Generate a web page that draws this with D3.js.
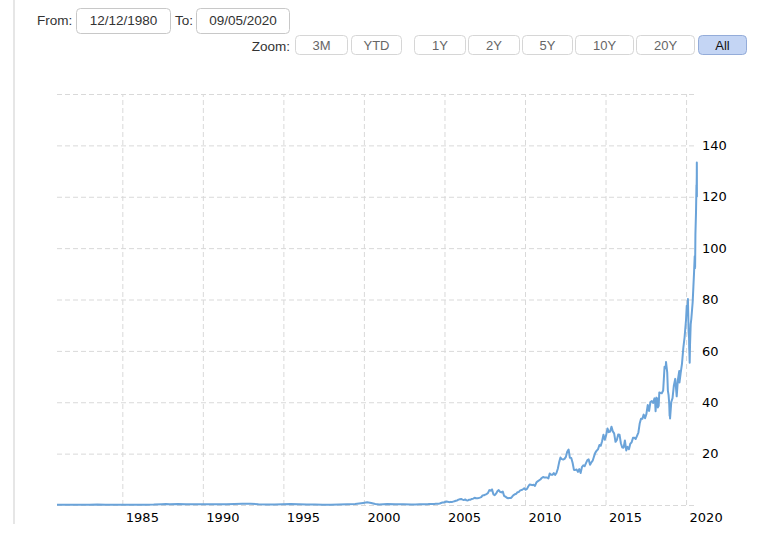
<!DOCTYPE html>
<html>
<head>
<meta charset="utf-8">
<script src="https://cdn.jsdelivr.net/npm/d3@7"></script>
<style>
html,body{margin:0;padding:0;background:#fff;}
svg{display:block;}
</style>
</head>
<body>
<svg id="chart" width="768" height="550"></svg>
<script>
// ---- data (adjusted closing price) ----
const dates = [
"1980-12-12","1981-01-15","1981-06-15","1981-12-15","1982-06-15","1982-12-15","1983-06-15","1983-12-15",
"1984-06-15","1984-12-15","1985-06-15","1985-12-15","1986-06-15","1986-12-15","1987-06-15","1987-09-15","1987-12-15",
"1988-06-15","1988-12-15","1989-06-15","1989-12-15","1990-06-15","1990-12-15","1991-06-15","1991-12-15",
"1992-06-15","1992-12-15","1993-06-15","1993-12-15","1994-06-15","1994-12-15","1995-06-15","1995-12-15",
"1996-06-15","1996-12-15","1997-06-15","1997-12-15","1998-06-15","1998-12-15","1999-06-15","1999-12-15",
"2000-03-15","2000-06-15","2000-09-15","2000-12-15","2001-06-15","2001-12-15","2002-06-15","2002-12-15",
"2003-03-15","2003-06-15","2003-09-15","2003-12-15",
"2004-01-15","2004-02-15","2004-03-15","2004-04-15","2004-05-15","2004-06-15","2004-07-15","2004-08-15","2004-09-15","2004-10-15","2004-11-15","2004-12-15",
"2005-01-15","2005-02-15","2005-03-15","2005-04-15","2005-05-15","2005-06-15","2005-07-15","2005-08-15","2005-09-15","2005-10-15","2005-11-15","2005-12-15",
"2006-01-15","2006-02-15","2006-03-15","2006-04-15","2006-05-15","2006-06-15","2006-07-15","2006-08-15","2006-09-15","2006-10-15","2006-11-15","2006-12-15",
"2007-01-15","2007-02-15","2007-03-15","2007-04-15","2007-05-15","2007-06-15","2007-07-15","2007-08-15","2007-09-15","2007-10-15","2007-11-15","2007-12-15",
"2008-01-15","2008-02-15","2008-03-15","2008-04-15","2008-05-15","2008-06-15","2008-07-15","2008-08-15","2008-09-15","2008-10-15","2008-11-15","2008-12-15",
"2009-01-15","2009-02-15","2009-03-15","2009-04-15","2009-05-15","2009-06-15","2009-07-15","2009-08-15","2009-09-15","2009-10-15","2009-11-15","2009-12-15",
"2010-01-15","2010-02-15","2010-03-15","2010-04-15","2010-05-15","2010-06-15","2010-07-15","2010-08-15","2010-09-15","2010-10-15","2010-11-15","2010-12-15",
"2011-01-15","2011-02-15","2011-03-15","2011-04-15","2011-05-15","2011-06-15","2011-07-15","2011-08-15","2011-09-15","2011-10-15","2011-11-15","2011-12-15",
"2012-01-15","2012-02-15","2012-03-15","2012-04-15","2012-05-15","2012-06-15","2012-07-15","2012-08-15","2012-09-15","2012-10-15","2012-11-15","2012-12-15",
"2013-01-15","2013-02-15","2013-03-15","2013-04-15","2013-05-15","2013-06-15","2013-07-15","2013-08-15","2013-09-15","2013-10-15","2013-11-15","2013-12-15",
"2014-01-15","2014-02-15","2014-03-15","2014-04-15","2014-05-15","2014-06-15","2014-07-15","2014-08-15","2014-09-15","2014-10-15","2014-11-15","2014-12-15",
"2015-01-15","2015-02-15","2015-03-15","2015-04-15","2015-05-15","2015-06-15","2015-07-15","2015-08-15","2015-09-15","2015-10-15","2015-11-15","2015-12-15",
"2016-01-15","2016-02-15","2016-03-15","2016-04-15","2016-05-15","2016-06-15","2016-07-15","2016-08-15","2016-09-15","2016-10-15","2016-11-15","2016-12-15",
"2017-01-15","2017-02-15","2017-03-15","2017-04-15","2017-05-15","2017-06-15","2017-07-15","2017-08-15","2017-09-15","2017-10-15","2017-11-15","2017-12-15",
"2018-01-15","2018-02-01","2018-02-09","2018-02-28","2018-03-15","2018-04-02","2018-04-20","2018-05-04","2018-05-31","2018-06-29",
"2018-07-31","2018-08-15","2018-08-31","2018-09-28","2018-10-03","2018-10-31","2018-11-15","2018-11-30","2018-12-14","2018-12-24",
"2019-01-02","2019-01-03","2019-01-31","2019-02-28","2019-03-29","2019-04-30","2019-05-15","2019-06-03","2019-06-28","2019-07-31",
"2019-08-05","2019-08-30","2019-09-30","2019-10-31","2019-11-29","2019-12-31",
"2020-01-17","2020-01-31","2020-02-12","2020-02-28","2020-03-09","2020-03-12","2020-03-16","2020-03-23","2020-03-31","2020-04-15",
"2020-04-30","2020-05-15","2020-05-29","2020-06-15","2020-06-30","2020-07-15","2020-07-24","2020-07-31","2020-08-14","2020-08-24",
"2020-08-28","2020-08-31","2020-09-01","2020-09-02","2020-09-03","2020-09-04"
];
const closes = [
0.10,0.12,0.10,0.07,0.06,0.11,0.17,0.09,
0.09,0.09,0.06,0.08,0.13,0.15,0.30,0.40,0.32,
0.37,0.31,0.32,0.27,0.28,0.33,0.33,0.43,
0.45,0.46,0.30,0.23,0.23,0.31,0.37,0.25,
0.17,0.17,0.12,0.10,0.22,0.33,0.36,0.80,
1.05,0.81,0.40,0.23,0.36,0.34,0.27,0.22,
0.22,0.29,0.32,0.33,
0.36,0.37,0.41,0.40,0.43,0.50,0.50,0.53,0.60,0.80,0.98,0.99,
1.18,1.38,1.28,1.11,1.22,1.13,1.31,1.44,1.65,1.77,2.08,2.22,
2.32,2.09,1.93,2.17,1.83,1.76,2.08,2.07,2.37,2.49,2.81,2.61,
2.63,2.74,2.86,3.05,3.72,3.75,4.03,4.25,4.72,5.82,5.58,6.08,
4.15,3.82,4.40,5.34,5.81,5.15,4.89,5.21,3.50,3.26,2.84,2.63,
2.77,2.74,3.23,3.86,4.17,4.37,5.00,5.09,5.70,5.80,6.14,6.51,
5.94,6.29,7.20,7.99,7.89,7.73,7.90,7.45,8.74,9.23,9.56,9.92,
10.49,10.89,10.73,10.74,10.72,10.36,12.29,11.77,11.74,12.43,11.70,12.45,
14.12,16.69,18.46,17.85,17.72,17.98,18.73,20.71,21.6,18.35,18.32,16.47,
13.67,13.66,13.80,12.9,13.95,12.46,14.75,15.47,15.12,16.33,17.47,17.75,
15.63,16.62,17.23,18.90,20.37,21.16,21.69,23.37,23.06,24.79,27.37,25.38,
27.19,29.80,28.36,28.55,30.50,28.68,27.90,24.60,25.35,27.45,27.32,24.05,
22.37,22.33,25.13,21.26,22.62,21.73,23.83,24.40,26.14,26.21,25.70,26.92,
28.22,31.86,33.55,33.53,35.18,33.79,35.39,38.90,36.63,40.09,40.45,39.72,
41.5,39.3,36.5,41.8,41.5,38.0,38.6,43.8,43.6,43.5,
44.6,49.0,53.8,53.3,55.7,51.5,44.4,42.9,39.8,34.8,
37.4,33.7,40.1,41.6,46.3,49.1,46.2,42.3,48.5,52.2,
47.7,51.1,54.9,61.2,65.4,72.0,
77.6,75.5,80.2,67.3,65.0,61.0,59.6,55.4,62.4,70.3,
72.6,75.8,78.8,84.9,90.4,96.8,92.3,105.3,114.2,124.6,
124.0,128.6,133.3,130.5,120.1,120.2
];
const yearTicks = [1985,1990,1995,2000,2005,2010,2015,2020];
const priceTicks = [0,20,40,60,80,100,120,140,160];
const zoomButtons = ["3M","YTD","1Y","2Y","5Y","10Y","20Y","All"];
const fromDate = "12/12/1980";
const toDate = "09/05/2020";

// ---- layout ----
const svg = d3.select("#chart");
const parse = d3.timeParse("%Y-%m-%d");
const data = dates.map((d,i)=>({date:parse(d), value:closes[i]}));

const x = d3.scaleTime()
  .domain([parse("1980-12-12"), parse("2020-09-05")])
  .range([57, 697]);
const y = d3.scaleLinear().domain([0,160]).range([505, 94]);

// left border line
svg.append("line").attr("x1",14).attr("x2",14).attr("y1",0).attr("y2",524)
  .attr("stroke","#e6e6e6").attr("stroke-width",2);

// grid - horizontal
const gy = svg.append("g").attr("transform","translate(57,0)")
  .call(d3.axisLeft(y).tickValues(priceTicks).tickSize(-(697-57)).tickFormat(""));
gy.select(".domain").remove();
gy.selectAll(".tick line").attr("stroke","#d9d9d9").attr("stroke-dasharray","5,3");

// grid - vertical
const gx = svg.append("g").attr("transform","translate(0,505)")
  .call(d3.axisBottom(x).tickValues(yearTicks.map(v=>new Date(v,0,1))).tickSize(-(505-94)).tickFormat(""));
gx.select(".domain").remove();
gx.selectAll(".tick line").attr("stroke","#d9d9d9").attr("stroke-dasharray","5,3");

// x labels
const xl = svg.append("g").attr("transform","translate(0,505)")
  .call(d3.axisBottom(x).tickValues(yearTicks.map(v=>new Date(v,0,1))).tickSize(0).tickFormat(d3.timeFormat("%Y")));
xl.select(".domain").remove();
xl.selectAll("text").attr("text-anchor","start").attr("dx",3).attr("y",8).attr("dy","0.71em")
  .attr("font-family","DejaVu Sans, Verdana, sans-serif").attr("font-size","13px").attr("fill","#000");

// y labels
const yl = svg.append("g").attr("transform","translate(697,0)")
  .call(d3.axisRight(y).tickValues(priceTicks.filter(v=>v>0 && v<160)).tickSize(0));
yl.select(".domain").remove();
yl.selectAll("text").attr("x",5).attr("text-anchor","start")
  .attr("font-family","DejaVu Sans, Verdana, sans-serif").attr("font-size","13px").attr("fill","#000");

// line
const line = d3.line().x(d=>x(d.date)).y(d=>y(d.value)).curve(d3.curveLinear);
svg.append("path").datum(data).attr("d",line)
  .attr("fill","none").attr("stroke","#6aa3d9").attr("stroke-width",2).attr("stroke-linejoin","round");

// ---- controls ----
const uiFont = "Liberation Sans, Arial, Helvetica, sans-serif";
svg.append("text").attr("x",37).attr("y",25).text("From:")
  .attr("font-family",uiFont).attr("font-size","13.5px").attr("fill","#333");
svg.append("rect").attr("x",76.5).attr("y",8.5).attr("width",94).attr("height",25).attr("rx",4)
  .attr("fill","#fff").attr("stroke","#c8c8c8");
svg.append("text").attr("x",123.5).attr("y",25).attr("text-anchor","middle").text(fromDate)
  .attr("font-family",uiFont).attr("font-size","13.5px").attr("fill","#333");
svg.append("text").attr("x",175).attr("y",25).text("To:")
  .attr("font-family",uiFont).attr("font-size","13.5px").attr("fill","#333");
svg.append("rect").attr("x",196.5).attr("y",8.5).attr("width",93).attr("height",25).attr("rx",4)
  .attr("fill","#fff").attr("stroke","#c8c8c8");
svg.append("text").attr("x",243).attr("y",25).attr("text-anchor","middle").text(toDate)
  .attr("font-family",uiFont).attr("font-size","13.5px").attr("fill","#333");

svg.append("text").attr("x",290).attr("y",51).attr("text-anchor","end").text("Zoom:")
  .attr("font-family",uiFont).attr("font-size","13.5px").attr("fill","#333");

const btnX = [295,351,414,468,522,575,636,698];
const btnW = [53,51,52,52,51,59,59,49];
const bg = svg.append("g");
zoomButtons.forEach((b,i)=>{
  const sel = b==="All";
  bg.append("rect").attr("x",btnX[i]+0.5).attr("y",35.5).attr("width",btnW[i]-1).attr("height",19).attr("rx",4)
    .attr("fill",sel?"#c4d5f4":"#fff").attr("stroke",sel?"#94acd9":"#d6d6d6");
  bg.append("text").attr("x",btnX[i]+btnW[i]/2).attr("y",50).attr("text-anchor","middle").text(b)
    .attr("font-family",uiFont).attr("font-size","13px").attr("fill",sel?"#111":"#666");
});
</script>
</body>
</html>
